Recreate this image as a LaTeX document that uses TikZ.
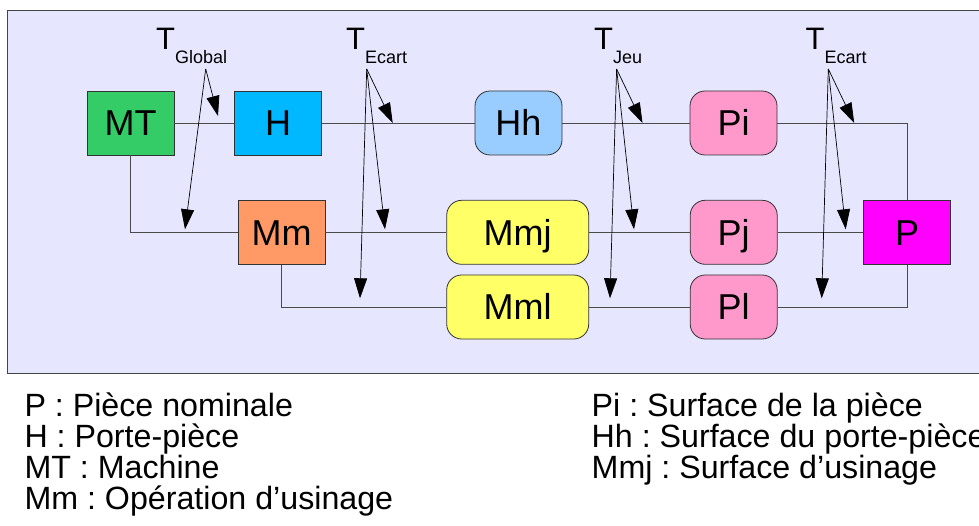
\documentclass[tikz,border=0pt]{standalone}
\usepackage{fontspec}
\setmainfont{Liberation Sans}
\usetikzlibrary{arrows.meta}
\definecolor{bgc}{HTML}{E6E6FF}
\definecolor{bord}{HTML}{444444}
\definecolor{boxline}{HTML}{333333}
\definecolor{connc}{HTML}{4A4A4A}
\definecolor{cMT}{HTML}{33CC66}
\definecolor{cH}{HTML}{00B8FF}
\definecolor{cHh}{HTML}{99CCFF}
\definecolor{cPi}{HTML}{FF99CC}
\definecolor{cMm}{HTML}{FF9966}
\definecolor{cMmj}{HTML}{FFFF66}
\definecolor{cP}{HTML}{FF00FF}
\frenchspacing
\begin{document}
\begin{tikzpicture}[x=1pt,y=-1pt,
  box/.style={draw=boxline, line width=0.8pt, minimum width=87pt, minimum height=64pt,
    inner sep=0pt, font=\fontsize{36}{36}\selectfont, text height=25.8pt, text depth=0pt},
  rbox/.style={box, rounded corners=15pt},
  widebox/.style={minimum width=142pt},
  conn/.style={draw=connc, line width=0.8pt},
  arr/.style={-{Triangle[length=20pt,width=13pt]}, line width=0.7pt, black},
  tlabel/.style={anchor=base west, inner sep=0pt, font=\fontsize{31}{31}\selectfont},
  leg/.style={anchor=base west, inner sep=0pt, font=\fontsize{32.2}{33}\selectfont}
]
\clip (0,0) rectangle (979,526);
\fill[white] (0,0) rectangle (979,526);
\draw[fill=bgc, draw=bord, line width=1pt] (7.3,10.7) rectangle (990,373);

% boxes
\node[box, fill=cMT] (MT) at (130.5,123) {MT};
\node[box, fill=cH] (H) at (278,123) {H};
\node[rbox, fill=cHh] (Hh) at (518.5,123) {Hh};
\node[rbox, fill=cPi] (Pi) at (733.5,123) {Pi};
\node[box, fill=cMm] (Mm) at (281.5,232.3) {Mm};
\node[rbox, widebox, fill=cMmj] (Mmj) at (517.7,232.3) {Mmj};
\node[rbox, widebox, fill=cMmj] (Mml) at (517.7,307) {Mml};
\node[rbox, fill=cPi] (Pj) at (733.7,232.3) {Pj};
\node[rbox, fill=cPi] (Pl) at (733.7,307) {Pl};
\node[box, fill=cP] (P) at (907,232.3) {P};

% connectors
\draw[conn] (MT) -- (H);
\draw[conn] (H) -- (Hh);
\draw[conn] (Hh) -- (Pi);
\draw[conn] (Pi.east) -| (P.north);
\draw[conn] (MT.south) |- (Mm.west);
\draw[conn] (Mm) -- (Mmj);
\draw[conn] (Mmj) -- (Pj);
\draw[conn] (Pj) -- (P);
\draw[conn] (Mm.south) |- (Mml.west);
\draw[conn] (Mml) -- (Pl);
\draw[conn] (Pl.east) -| (P.south);

% tolerance labels
\node[tlabel] (tG) at (156,50) {T\raisebox{-13.3pt}{\fontsize{18}{18}\selectfont Global}};
\node[tlabel] (tE1) at (346,50) {T\raisebox{-13.3pt}{\fontsize{18}{18}\selectfont Ecart}};
\node[tlabel] (tJ) at (594,50) {T\raisebox{-13.3pt}{\fontsize{18}{18}\selectfont Jeu}};
\node[tlabel] (tE2) at (805.5,50) {T\raisebox{-13.3pt}{\fontsize{18}{18}\selectfont Ecart}};

% arrow origins and tips
\coordinate (gO) at (205.7,69);
\coordinate (g1) at (218,116);
\coordinate (g2) at (185,229.3);
\coordinate (eO) at (366.7,69);
\coordinate (e1) at (392.7,123);
\coordinate (e2) at (385,229.3);
\coordinate (e3) at (360,298.3);
\coordinate (jO) at (616.6,69);
\coordinate (j1) at (642.5,123);
\coordinate (j2) at (634,229.3);
\coordinate (j3) at (610,298.3);
\coordinate (fO) at (828.3,69);
\coordinate (f1) at (854.2,123);
\coordinate (f2) at (845.7,229.3);
\coordinate (f3) at (821.7,298.3);

\draw[arr] (gO) -- (g1);
\draw[arr] (gO) -- (g2);
\draw[arr] (eO) -- (e1);
\draw[arr] (eO) -- (e2);
\draw[arr] (eO) -- (e3);
\draw[arr] (jO) -- (j1);
\draw[arr] (jO) -- (j2);
\draw[arr] (jO) -- (j3);
\draw[arr] (fO) -- (f1);
\draw[arr] (fO) -- (f2);
\draw[arr] (fO) -- (f3);

% legend
\node[leg] (l1) at (24.3,416) {P : Pièce nominale};
\node[leg] (l2) at (24.3,447) {H : Porte-pièce};
\node[leg] (l3) at (24.3,478) {MT : Machine};
\node[leg] (l4) at (24.3,509.5) {Mm : Opération d’usinage};
\node[leg] (r1) at (591.5,416) {Pi : Surface de la pièce};
\node[leg] (r2) at (591.5,447) {Hh : Surface du porte-pièce};
\node[leg] (r3) at (591.5,478) {Mmj : Surface d’usinage};
\end{tikzpicture}
\end{document}
